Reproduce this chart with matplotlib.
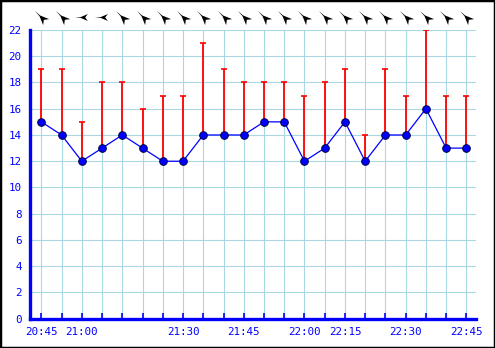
import numpy as np
import matplotlib
matplotlib.use('Agg')
import matplotlib.pyplot as plt
from matplotlib.path import Path
from matplotlib.patches import Rectangle
from matplotlib.transforms import blended_transform_factory

# wind speed, gusts and direction (deg, where wind comes from) per reading
wind = [15, 14, 12, 13, 14, 13, 12, 12, 14, 14, 14, 15, 15, 12, 13, 15, 12, 14, 14, 16, 13, 13]
gust = [19, 19, 15, 18, 18, 16, 17, 17, 21, 19, 18, 18, 18, 17, 18, 19, 14, 19, 17, 22, 17, 17]
wind_from = [135, 135, 90, 90, 135, 135, 135, 135, 135, 135, 135, 135,
             135, 135, 135, 135, 135, 135, 135, 135, 135, 135]
label_pos = [0, 2, 7, 10, 13, 15, 18, 21]
time_labels = ['20:45', '21:00', '21:30', '21:45', '22:00', '22:15', '22:30', '22:45']

BLUE = '#0000ff'
GRID = '#a8d8e0'
FONT = 'DejaVu Sans Mono'

x = np.arange(len(wind))

fig = plt.figure(figsize=(4.95, 3.48), dpi=100)
ax = fig.add_axes([30 / 495, 29.3 / 348, 445.7 / 495, 288.7 / 348])

ax.set_xlim(-0.56, len(wind) - 1 + 0.46)
ax.set_ylim(0, 22)
ax.set_yticks(range(0, 23, 2))
ax.set_xticks(x)
labels = [''] * len(wind)
for p, t in zip(label_pos, time_labels):
    labels[p] = t
ax.set_xticklabels(labels)

ax.grid(True, color=GRID, linewidth=0.8)
ax.set_axisbelow(True)
for s in ('top', 'right'):
    ax.spines[s].set_visible(False)
for s in ('left', 'bottom'):
    ax.spines[s].set_color(BLUE)
    ax.spines[s].set_linewidth(2.4)
ax.tick_params(axis='x', direction='in', length=4, width=1.2, color=BLUE,
               labelcolor=BLUE, labelsize=7.8, pad=6)
ax.tick_params(axis='y', length=0, labelcolor=BLUE, labelsize=7.8, pad=6)
for lab in ax.get_xticklabels() + ax.get_yticklabels():
    lab.set_family(FONT)

# gust bars
ax.vlines(x, wind, gust, color='red', linewidth=1.3, zorder=3)
ax.plot(x, gust, linestyle='none', marker='_', markersize=5, markeredgewidth=1.2,
        color='red', zorder=3)

# mean wind
ax.plot(x, wind, color=BLUE, linewidth=0.9, zorder=4)
ax.plot(x, wind, linestyle='none', marker='o', markersize=5.5, markerfacecolor=BLUE,
        markeredgecolor='#000040', markeredgewidth=0.7, zorder=5)

# direction arrows above the plot (notched dart pointing where the wind goes)
verts = [(1.0, 0.0), (0.25, 0.05), (-0.7, 0.45), (-0.35, 0.0), (-0.7, -0.45),
         (0.25, -0.05), (1.0, 0.0)]
codes = [Path.MOVETO] + [Path.LINETO] * 5 + [Path.CLOSEPOLY]
trans = blended_transform_factory(ax.transData, ax.transAxes)
for xi, d in zip(x, wind_from):
    ang = np.deg2rad(90 - (d + 180))
    c, s = np.cos(ang), np.sin(ang)
    rv = [(vx * c - vy * s, vx * s + vy * c) for vx, vy in verts]
    ax.plot(xi, 1.045, transform=trans, marker=Path(rv, codes), markersize=11,
            color='black', markeredgewidth=0, clip_on=False)

fig.patches.append(Rectangle((0, 0), 1, 1, transform=fig.transFigure, fill=False,
                             edgecolor='black', linewidth=2.5))

fig.savefig('out.png', dpi=100)
